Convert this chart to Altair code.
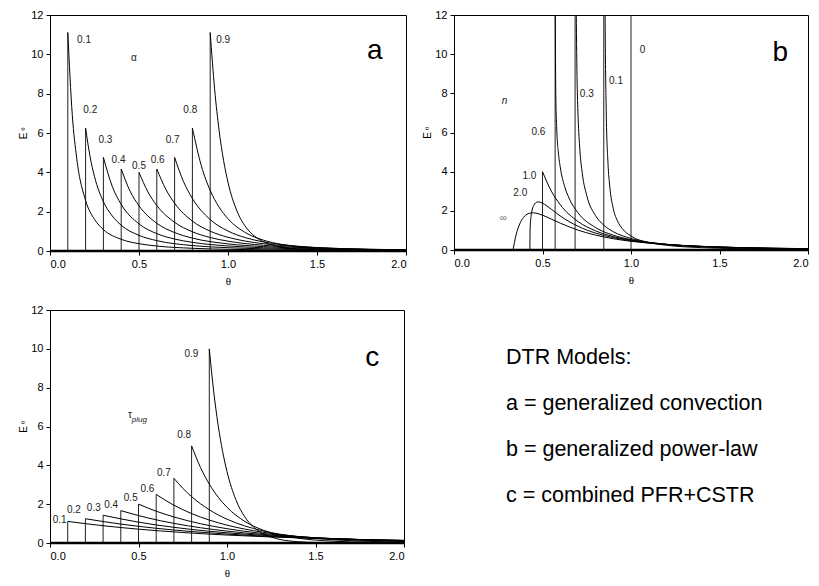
import altair as alt
import pandas as pd

THETA_TICKS = [0.0, 0.5, 1.0, 1.5, 2.0]
E_TICKS = [0, 2, 4, 6, 8, 10, 12]

# ---------- panel a : generalized convection (alpha) ----------
A_NAMES = ["0.1", "0.2", "0.3", "0.4", "0.5", "0.6", "0.7", "0.8", "0.9"]
A_START = [0.1, 0.2, 0.3, 0.4, 0.5, 0.6, 0.7, 0.8, 0.9]
A_PEAK = [11.11, 6.25, 4.76, 4.17, 4.00, 4.17, 4.76, 6.25, 11.11]
A_X = [
    [0.1, 0.125, 0.15, 0.2, 0.25, 0.3, 0.4, 0.5, 0.6, 0.8, 1.0, 1.5, 2.0],
    [0.2, 0.225, 0.25, 0.3, 0.35, 0.4, 0.5, 0.6, 0.8, 1.0, 1.2, 1.5, 2.0],
    [0.3, 0.35, 0.4, 0.5, 0.6, 0.7, 0.8, 1.0, 1.2, 1.5, 2.0],
    [0.4, 0.45, 0.5, 0.6, 0.7, 0.8, 1.0, 1.2, 1.5, 2.0],
    [0.5, 0.55, 0.6, 0.7, 0.8, 0.9, 1.0, 1.2, 1.5, 2.0],
    [0.6, 0.65, 0.7, 0.8, 0.9, 1.0, 1.1, 1.2, 1.4, 1.6, 2.0],
    [0.7, 0.75, 0.8, 0.9, 1.0, 1.1, 1.2, 1.4, 1.6, 2.0],
    [0.8, 0.85, 0.9, 0.95, 1.0, 1.1, 1.2, 1.3, 1.4, 1.6, 2.0],
    [0.9, 0.925, 0.95, 0.975, 1.0, 1.05, 1.1, 1.15, 1.2, 1.3, 1.4, 1.6, 2.0],
]
A_Y = [
    [11.11, 6.94, 4.72, 2.57, 1.61, 1.09, 0.595, 0.372, 0.253, 0.138, 0.086, 0.037, 0.020],
    [6.25, 4.80, 3.78, 2.51, 1.78, 1.31, 0.795, 0.528, 0.276, 0.167, 0.111, 0.067, 0.035],
    [4.76, 3.28, 2.37, 1.38, 0.884, 0.608, 0.44, 0.256, 0.164, 0.096, 0.048],
    [4.17, 3.04, 2.30, 1.41, 0.937, 0.656, 0.362, 0.223, 0.123, 0.057],
    [4.00, 3.005, 2.315, 1.458, 0.977, 0.686, 0.5, 0.289, 0.148, 0.0625],
    [4.17, 3.15, 2.43, 1.52, 1.008, 0.697, 0.499, 0.368, 0.215, 0.135, 0.062],
    [4.76, 3.53, 2.67, 1.60, 1.015, 0.672, 0.461, 0.236, 0.133, 0.050],
    [6.25, 4.34, 3.08, 2.23, 1.64, 0.925, 0.549, 0.339, 0.218, 0.098, 0.026],
    [11.11, 8.22, 6.13, 4.61, 3.49, 2.04, 1.22, 0.75, 0.469, 0.195, 0.086, 0.020, 0.002],
]
A_LABEL_X = [0.152, 0.187, 0.272, 0.346, 0.461, 0.566, 0.650, 0.749, 0.934]
A_LABEL_Y = [10.73, 7.17, 5.63, 4.61, 4.32, 4.61, 5.63, 7.17, 10.73]

# ---------- panel b : generalized power-law (n) ----------
B_NAMES = ["∞", "2.0", "1.0", "0.6", "0.3", "0.1"]
B_X = [
    [0.3333, 0.35, 0.375, 0.4, 0.425, 0.45, 0.475, 0.5, 0.55, 0.6, 0.7, 0.8, 0.9, 1.0, 1.2, 1.4, 1.6, 2.0],
    [0.4286, 0.43, 0.435, 0.44, 0.45, 0.46, 0.475, 0.49, 0.5, 0.55, 0.6, 0.7, 0.8, 0.9, 1.0, 1.2, 1.4, 1.6, 2.0],
    [0.5, 0.55, 0.6, 0.7, 0.8, 0.9, 1.0, 1.2, 1.4, 1.6, 2.0],
    [0.572, 0.575, 0.58, 0.59, 0.6, 0.625, 0.65, 0.7, 0.8, 0.9, 1.0, 1.2, 1.4, 1.6, 2.0],
    [0.69, 0.695, 0.7, 0.71, 0.725, 0.75, 0.8, 0.85, 0.9, 1.0, 1.2, 1.4, 1.6, 2.0],
    [0.853, 0.855, 0.86, 0.87, 0.88, 0.9, 0.925, 0.95, 1.0, 1.1, 1.2, 1.4, 1.6, 2.0],
]
B_Y = [
    [0.0, 0.74, 1.405, 1.736, 1.873, 1.897, 1.855, 1.778, 1.578, 1.372, 1.018, 0.76, 0.576, 0.444, 0.279, 0.185, 0.129, 0.069],
    [0.0, 1.07, 1.70, 1.99, 2.27, 2.40, 2.456, 2.43, 2.39, 2.08, 1.74, 1.215, 0.864, 0.632, 0.474, 0.285, 0.184, 0.126, 0.066],
    [4.0, 3.005, 2.315, 1.458, 0.977, 0.686, 0.5, 0.289, 0.182, 0.122, 0.0625],
    [12.72, 8.01, 6.29, 4.95, 4.25, 3.245, 2.647, 1.908, 1.145, 0.756, 0.53, 0.292, 0.178, 0.117, 0.058],
    [12.62, 8.86, 7.09, 5.26, 3.90, 2.78, 1.75, 1.24, 0.935, 0.587, 0.288, 0.165, 0.104, 0.0495],
    [12.84, 10.36, 7.09, 4.43, 3.25, 2.11, 1.46, 1.10, 0.712, 0.384, 0.242, 0.12, 0.0695, 0.030],
]
B_DROP_X = [0.5, 0.5714, 0.6842, 0.8462, 1.0]
B_DROP_TOP = [4.0, 12.0, 12.0, 12.0, 12.0]
B_LABELS = ["0", "0.1", "0.3", "0.6", "1.0", "2.0"]
B_LABEL_X = [1.049, 0.876, 0.711, 0.438, 0.387, 0.335]
B_LABEL_Y = [10.22, 8.65, 7.96, 6.03, 3.77, 2.93]

# ---------- panel c : combined PFR + CSTR (tau_plug) ----------
C_NAMES = ["0.1", "0.2", "0.3", "0.4", "0.5", "0.6", "0.7", "0.8", "0.9"]
C_START = [0.1, 0.2, 0.3, 0.4, 0.5, 0.6, 0.7, 0.8, 0.9]
C_PEAK = [1.111, 1.25, 1.429, 1.667, 2.0, 2.5, 3.333, 5.0, 10.0]
C_X = [
    [0.1, 0.3, 0.5, 0.75, 1.0, 1.25, 1.5, 1.75, 2.0],
    [0.2, 0.4, 0.6, 0.8, 1.0, 1.25, 1.5, 1.75, 2.0],
    [0.3, 0.5, 0.7, 0.9, 1.1, 1.3, 1.5, 1.75, 2.0],
    [0.4, 0.55, 0.7, 0.85, 1.0, 1.2, 1.4, 1.6, 1.8, 2.0],
    [0.5, 0.6, 0.7, 0.85, 1.0, 1.2, 1.4, 1.6, 1.8, 2.0],
    [0.6, 0.7, 0.8, 0.9, 1.0, 1.2, 1.4, 1.6, 1.8, 2.0],
    [0.7, 0.75, 0.8, 0.9, 1.0, 1.1, 1.2, 1.4, 1.6, 1.8, 2.0],
    [0.8, 0.85, 0.9, 0.95, 1.0, 1.1, 1.2, 1.3, 1.4, 1.6, 1.8, 2.0],
    [0.9, 0.925, 0.95, 0.975, 1.0, 1.05, 1.1, 1.15, 1.2, 1.3, 1.4, 1.5, 1.7, 2.0],
]
C_Y = [
    [1.111, 0.890, 0.712, 0.540, 0.409, 0.310, 0.235, 0.178, 0.135],
    [1.25, 0.974, 0.758, 0.590, 0.460, 0.336, 0.246, 0.180, 0.132],
    [1.429, 1.074, 0.807, 0.606, 0.456, 0.342, 0.257, 0.180, 0.126],
    [1.667, 1.298, 1.011, 0.787, 0.613, 0.439, 0.315, 0.226, 0.162, 0.116],
    [2.0, 1.637, 1.341, 0.993, 0.736, 0.493, 0.331, 0.222, 0.149, 0.0996],
    [2.5, 1.947, 1.516, 1.181, 0.920, 0.558, 0.338, 0.205, 0.125, 0.0755],
    [3.333, 2.822, 2.388, 1.711, 1.226, 0.879, 0.630, 0.323, 0.166, 0.085, 0.044],
    [5.0, 3.894, 3.033, 2.362, 1.839, 1.116, 0.677, 0.410, 0.249, 0.092, 0.034, 0.012],
    [10.0, 7.788, 6.065, 4.724, 3.679, 2.231, 1.353, 0.821, 0.498, 0.183, 0.067, 0.025, 0.0034, 0.0002],
]
C_LABEL_X = [0.015, 0.096, 0.208, 0.306, 0.417, 0.511, 0.604, 0.719, 0.760]
C_LABEL_Y = [1.20, 1.72, 1.79, 1.96, 2.33, 2.76, 3.59, 5.56, 9.73]

DTR_LINES = ["DTR Models:", "a = generalized convection",
             "b = generalized power-law", "c = combined PFR+CSTR"]

FONT = "Liberation Sans"
SERIF = "Liberation Serif"


def xenc(field):
    return alt.X(f"{field}:Q", scale=alt.Scale(domain=[THETA_TICKS[0], THETA_TICKS[-1]], nice=False),
                 axis=alt.Axis(values=THETA_TICKS, format=".1f", title="θ", grid=False,
                               titleFont=SERIF, titleFontSize=11, titleFontWeight="normal",
                               titleColor="black", titlePadding=6))


def yenc(field):
    return alt.Y(f"{field}:Q", scale=alt.Scale(domain=[E_TICKS[0], E_TICKS[-1]], nice=False),
                 axis=alt.Axis(values=E_TICKS, format="d", title=None, grid=False))


def curves_df(names, xs, ys):
    rows = []
    for name, xl, yl in zip(names, xs, ys):
        for x, y in zip(xl, yl):
            rows.append({"curve": name, "theta": x, "E": y})
    return pd.DataFrame(rows)


def panel(cdf, drops, labels, letter, letter_x, letter_y, W, H, extra=None):
    base_df = pd.DataFrame({"x": [THETA_TICKS[0]], "x2": [THETA_TICKS[-1]], "y": [E_TICKS[0]]})
    baseline = alt.Chart(base_df).mark_rule(color="black", strokeWidth=2.5).encode(
        x=xenc("x"), x2="x2:Q", y=yenc("y"))
    drop = alt.Chart(drops).mark_rule(color="#222222", strokeWidth=1, clip=True).encode(
        x=xenc("theta"), y=yenc("y0"), y2="top:Q")
    lines = alt.Chart(cdf).mark_line(interpolate="monotone", color="black", strokeWidth=1, clip=True).encode(
        x=xenc("theta"), y=yenc("E"), detail="curve:N", order="theta:Q")
    lab = alt.Chart(labels).mark_text(align="left", baseline="middle", font=FONT, fontSize=10,
                                      color="#222222").encode(x=xenc("lx"), y=yenc("ly"), text="t:N")
    let = alt.Chart(pd.DataFrame({"lx": [letter_x], "ly": [letter_y], "t": [letter]})).mark_text(
        align="center", baseline="alphabetic", font=FONT, fontSize=28, color="black").encode(
        x=xenc("lx"), y=yenc("ly"), text="t:N")
    ytitle = alt.Chart(pd.DataFrame({"t": ["E"]})).mark_text(
        angle=270, align="center", baseline="middle", font=FONT, fontSize=10, color="black").encode(
        x=alt.value(-26), y=alt.value(H / 2 + 3), text="t:N")
    ysub = alt.Chart(pd.DataFrame({"t": ["θ"]})).mark_text(
        angle=270, align="center", baseline="middle", font=SERIF, fontSize=7, color="black").encode(
        x=alt.value(-27), y=alt.value(H / 2 - 4), text="t:N")
    layers = [drop, lines, baseline, lab, let, ytitle, ysub]
    if extra:
        layers += extra
    return alt.layer(*layers).properties(width=W, height=H)


# panel a
a_curves = curves_df(A_NAMES, A_X, A_Y)
a_drops = pd.DataFrame({"theta": A_START, "y0": [0] * len(A_START), "top": A_PEAK})
a_labels = pd.DataFrame({"lx": A_LABEL_X + [0.455], "ly": A_LABEL_Y + [9.8], "t": A_NAMES + ["α"]})
panel_a = panel(a_curves, a_drops, a_labels, "a", 1.824, 9.75, 356, 236)

# panel b
b_curves = curves_df(B_NAMES, B_X, B_Y)
b_drops = pd.DataFrame({"theta": B_DROP_X, "y0": [0] * len(B_DROP_X), "top": B_DROP_TOP})
b_labels = pd.DataFrame({"lx": B_LABEL_X, "ly": B_LABEL_Y, "t": B_LABELS})
b_sym = pd.DataFrame({"lx": [0.27, 0.259], "ly": [7.6, 1.64], "t": ["n", "∞"]})
b_extra = [
    alt.Chart(b_sym.iloc[[0]]).mark_text(align="left", baseline="middle", font=FONT, fontSize=10,
                                          fontStyle="italic", color="#222222").encode(
        x=xenc("lx"), y=yenc("ly"), text="t:N"),
    alt.Chart(b_sym.iloc[[1]]).mark_text(align="left", baseline="middle", font=FONT, fontSize=10,
                                          color="#777777").encode(
        x=xenc("lx"), y=yenc("ly"), text="t:N"),
]
panel_b = panel(b_curves, b_drops, b_labels, "b", 1.844, 9.63, 354, 235, b_extra)

# panel c
c_curves = curves_df(C_NAMES, C_X, C_Y)
c_drops = pd.DataFrame({"theta": C_START, "y0": [0] * len(C_START), "top": C_PEAK})
c_labels = pd.DataFrame({"lx": C_LABEL_X, "ly": C_LABEL_Y, "t": C_NAMES})
tau_df = pd.DataFrame({"lx": [0.44], "ly": [6.61], "t": ["τ"]})
plug_df = pd.DataFrame({"lx": [0.462], "ly": [6.33], "t": ["plug"]})
dtr_df = pd.DataFrame({"t": DTR_LINES, "i": list(range(len(DTR_LINES)))})
c_extra = [
    alt.Chart(tau_df).mark_text(align="left", baseline="middle", font=FONT, fontSize=10,
                                color="#222222").encode(x=xenc("lx"), y=yenc("ly"), text="t:N"),
    alt.Chart(plug_df).mark_text(align="left", baseline="middle", font=FONT, fontSize=8,
                                 fontStyle="italic", color="#222222").encode(x=xenc("lx"), y=yenc("ly"), text="t:N"),
] + [
    alt.Chart(dtr_df.iloc[[k]]).mark_text(align="left", baseline="middle", font=FONT, fontSize=21.5,
                                          color="black").encode(
        x=alt.value(456), y=alt.value(47.5 + 46.3 * k), text="t:N")
    for k in range(len(DTR_LINES))
]
panel_c = panel(c_curves, c_drops, c_labels, "c", 1.821, 9.13, 354, 233, c_extra)

chart = alt.vconcat(
    alt.hconcat(panel_a, panel_b, spacing=14),
    panel_c,
    spacing=16,
).properties(
    padding={"left": 10, "top": 0, "right": 0, "bottom": 5}
).configure_view(stroke="black", strokeWidth=1).configure_axis(
    grid=False, domainColor="black", tickColor="black", labelColor="black",
    labelFont=FONT, labelFontSize=11, tickSize=4, labelPadding=3,
)

chart.save("out.html", embed_options={"renderer": "svg", "actions": False})
